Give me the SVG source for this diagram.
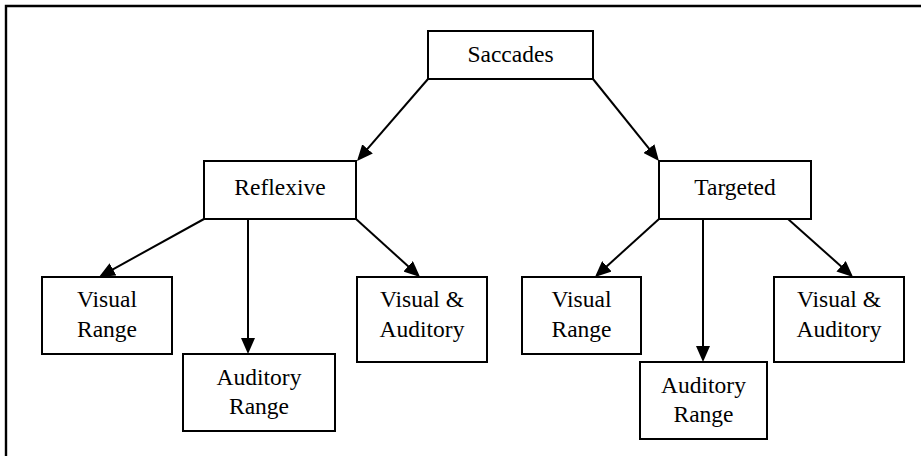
<svg xmlns="http://www.w3.org/2000/svg" width="921" height="456" viewBox="0 0 921 456">
  <style>
    .box { fill: #ffffff; stroke: #000000; stroke-width: 2; }
    .lbl { font-family: "Liberation Serif", "Times New Roman", serif; font-size: 23.5px; fill: #000000; text-anchor: middle; }
    .edge { stroke: #000000; stroke-width: 2; fill: none; marker-end: url(#arrow); }
    .frame { stroke: #000000; stroke-width: 2.4; fill: none; }
  </style>
  <defs>
    <marker id="arrow" markerUnits="userSpaceOnUse" markerWidth="16" markerHeight="14" viewBox="0 0 16 14" refX="13" refY="7" orient="auto">
      <path d="M0,0 L16,7 L0,14 z" fill="#000000"/>
    </marker>
  </defs>
  <rect width="921" height="456" fill="#ffffff"/>
  <g id="frame">
    <path class="frame" d="M6,456 L6,6 L921,6"/>
  </g>
  <g id="connectors">
    <line class="edge" x1="428" y1="79" x2="359" y2="158.7"/>
    <line class="edge" x1="593" y1="79" x2="657.1" y2="158.7"/>
    <line class="edge" x1="204" y1="219" x2="101.6" y2="275.6"/>
    <line class="edge" x1="248" y1="219" x2="248" y2="351"/>
    <line class="edge" x1="356" y1="219" x2="417.8" y2="275"/>
    <line class="edge" x1="659" y1="219" x2="597.2" y2="275"/>
    <line class="edge" x1="703" y1="219" x2="703" y2="359"/>
    <line class="edge" x1="788" y1="219" x2="850.8" y2="275"/>
  </g>
  <g id="saccades">
    <rect class="box" x="428" y="31" width="165" height="48"/>
    <text class="lbl" x="510.5" y="62">Saccades</text>
  </g>
  <g id="reflexive">
    <rect class="box" x="204" y="161" width="152" height="58"/>
    <text class="lbl" x="280" y="195">Reflexive</text>
  </g>
  <g id="targeted">
    <rect class="box" x="659" y="161" width="152" height="58"/>
    <text class="lbl" x="735" y="195">Targeted</text>
  </g>
  <g id="reflexive-visual-range">
    <rect class="box" x="42" y="277" width="130" height="77"/>
    <text class="lbl" x="107" y="307">Visual</text>
    <text class="lbl" x="107" y="337">Range</text>
  </g>
  <g id="reflexive-auditory-range">
    <rect class="box" x="183" y="354" width="152" height="77"/>
    <text class="lbl" x="259" y="385">Auditory</text>
    <text class="lbl" x="259" y="414">Range</text>
  </g>
  <g id="reflexive-visual-auditory">
    <rect class="box" x="357" y="277" width="130" height="85"/>
    <text class="lbl" x="422" y="307">Visual &amp;</text>
    <text class="lbl" x="422" y="337">Auditory</text>
  </g>
  <g id="targeted-visual-range">
    <rect class="box" x="522" y="277" width="119" height="77"/>
    <text class="lbl" x="581.5" y="307">Visual</text>
    <text class="lbl" x="581.5" y="337">Range</text>
  </g>
  <g id="targeted-auditory-range">
    <rect class="box" x="640" y="362" width="127" height="77"/>
    <text class="lbl" x="703.5" y="393">Auditory</text>
    <text class="lbl" x="703.5" y="422">Range</text>
  </g>
  <g id="targeted-visual-auditory">
    <rect class="box" x="774" y="277" width="130" height="85"/>
    <text class="lbl" x="839" y="307">Visual &amp;</text>
    <text class="lbl" x="839" y="337">Auditory</text>
  </g>
</svg>
